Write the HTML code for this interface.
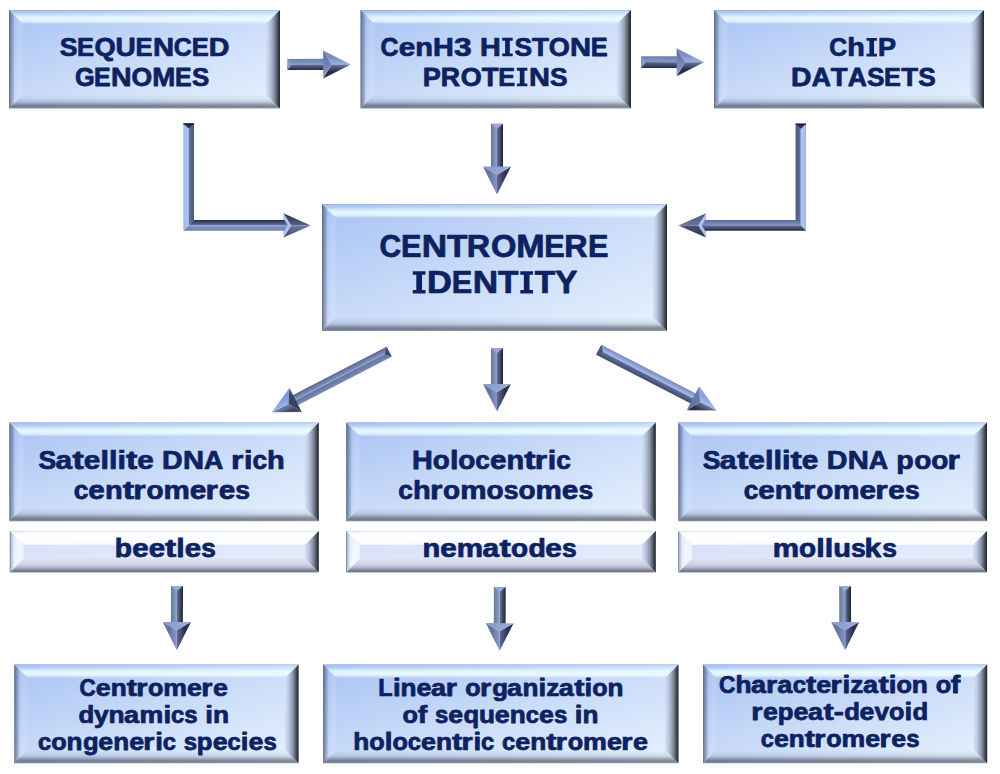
<!DOCTYPE html><html><head><meta charset="utf-8"><title>Centromere identity</title><style>html,body{margin:0;padding:0;background:#fff;width:1000px;height:774px;overflow:hidden}svg{display:block}text{font-family:"Liberation Sans",sans-serif}</style></head><body><svg width="1000" height="774" viewBox="0 0 1000 774"><defs><linearGradient id="faceB" x1="0" y1="0" x2="1" y2="1"><stop offset="0" stop-color="#a8c2f2"/><stop offset="0.5" stop-color="#cadcf9"/><stop offset="1" stop-color="#e8f2fe"/></linearGradient><linearGradient id="topB" x1="0" y1="0" x2="0" y2="1"><stop offset="0" stop-color="#6070a0" stop-opacity="0.5"/><stop offset="0.06" stop-color="#8090c0" stop-opacity="0.15"/><stop offset="0.12" stop-color="#ffffff" stop-opacity="0.0"/><stop offset="0.25" stop-color="#f0ffff" stop-opacity="0.18"/><stop offset="0.38" stop-color="#e8ffff" stop-opacity="0.55"/><stop offset="0.5" stop-color="#e8ffff" stop-opacity="0.8"/><stop offset="0.62" stop-color="#ecffff" stop-opacity="0.88"/><stop offset="0.8" stop-color="#f0ffff" stop-opacity="0.75"/><stop offset="0.92" stop-color="#ffffff" stop-opacity="0.3"/><stop offset="1" stop-color="#ffffff" stop-opacity="0.05"/></linearGradient><linearGradient id="leftB" x1="0" y1="0" x2="1" y2="0"><stop offset="0" stop-color="#283040" stop-opacity="0.62"/><stop offset="0.15" stop-color="#303a58" stop-opacity="0.42"/><stop offset="0.3" stop-color="#3a4670" stop-opacity="0.25"/><stop offset="0.5" stop-color="#ffffff" stop-opacity="0.0"/><stop offset="0.7" stop-color="#ffffff" stop-opacity="0.12"/><stop offset="1" stop-color="#ffffff" stop-opacity="0.1"/></linearGradient><linearGradient id="rightB" x1="0" y1="0" x2="1" y2="0"><stop offset="0" stop-color="#d4def6"/><stop offset="0.2" stop-color="#c4cee6"/><stop offset="0.4" stop-color="#a8b4cc"/><stop offset="0.6" stop-color="#848ea2"/><stop offset="0.78" stop-color="#565e6a"/><stop offset="0.9" stop-color="#343a42"/><stop offset="1" stop-color="#24282e"/></linearGradient><linearGradient id="botB" x1="0" y1="0" x2="0" y2="1"><stop offset="0" stop-color="#283040" stop-opacity="0.0"/><stop offset="0.3" stop-color="#283040" stop-opacity="0.06"/><stop offset="0.5" stop-color="#283040" stop-opacity="0.16"/><stop offset="0.65" stop-color="#283040" stop-opacity="0.35"/><stop offset="0.78" stop-color="#283040" stop-opacity="0.52"/><stop offset="0.9" stop-color="#283040" stop-opacity="0.56"/><stop offset="1" stop-color="#283040" stop-opacity="0.4"/></linearGradient><linearGradient id="faceS" x1="0" y1="0" x2="1" y2="1"><stop offset="0" stop-color="#d2def8"/><stop offset="0.5" stop-color="#dfe7fa"/><stop offset="1" stop-color="#eaf0fc"/></linearGradient><linearGradient id="topS" x1="0" y1="0" x2="0" y2="1"><stop offset="0" stop-color="#c8ccd8" stop-opacity="0.6"/><stop offset="0.08" stop-color="#ffffff" stop-opacity="0.8"/><stop offset="0.4" stop-color="#ffffff" stop-opacity="0.97"/><stop offset="0.85" stop-color="#ffffff" stop-opacity="0.92"/><stop offset="1" stop-color="#ffffff" stop-opacity="0.6"/></linearGradient><linearGradient id="leftS" x1="0" y1="0" x2="1" y2="0"><stop offset="0" stop-color="#50587a" stop-opacity="0.85"/><stop offset="0.1" stop-color="#8088a8" stop-opacity="0.4"/><stop offset="0.3" stop-color="#ffffff" stop-opacity="0.4"/><stop offset="0.6" stop-color="#ffffff" stop-opacity="0.7"/><stop offset="1" stop-color="#ffffff" stop-opacity="0.55"/></linearGradient><linearGradient id="rightS" x1="0" y1="0" x2="1" y2="0"><stop offset="0" stop-color="#d4def6"/><stop offset="0.2" stop-color="#c4cee6"/><stop offset="0.4" stop-color="#a8b4cc"/><stop offset="0.6" stop-color="#848ea2"/><stop offset="0.78" stop-color="#565e6a"/><stop offset="0.9" stop-color="#343a42"/><stop offset="1" stop-color="#24282e"/></linearGradient><linearGradient id="botS" x1="0" y1="0" x2="0" y2="1"><stop offset="0" stop-color="#dce2f2"/><stop offset="0.4" stop-color="#d0d6e8"/><stop offset="0.65" stop-color="#b0b8ca"/><stop offset="0.82" stop-color="#868c9e"/><stop offset="0.92" stop-color="#6c7286"/><stop offset="1" stop-color="#9096a8"/></linearGradient><linearGradient id="shL1" x1="0" y1="0" x2="0" y2="1"><stop offset="0" stop-color="#7484b0"/><stop offset="1" stop-color="#8898c4"/></linearGradient><linearGradient id="shL2" x1="0" y1="0" x2="0" y2="1"><stop offset="0" stop-color="#8898c4"/><stop offset="1" stop-color="#7484b0"/></linearGradient><linearGradient id="shD1" x1="0" y1="0" x2="0" y2="1"><stop offset="0" stop-color="#2a3250"/><stop offset="1" stop-color="#5a6890"/></linearGradient><linearGradient id="shD2" x1="0" y1="0" x2="0" y2="1"><stop offset="0" stop-color="#5a6890"/><stop offset="1" stop-color="#2a3250"/></linearGradient><linearGradient id="hdL1" x1="0" y1="0" x2="0" y2="1"><stop offset="0" stop-color="#7c8cbc"/><stop offset="1" stop-color="#90a0d0"/></linearGradient><linearGradient id="hdL2" x1="0" y1="0" x2="0" y2="1"><stop offset="0" stop-color="#90a0d0"/><stop offset="1" stop-color="#7c8cbc"/></linearGradient><linearGradient id="hdD1" x1="0" y1="0" x2="0" y2="1"><stop offset="0" stop-color="#2c3452"/><stop offset="1" stop-color="#5e6c98"/></linearGradient><linearGradient id="hdD2" x1="0" y1="0" x2="0" y2="1"><stop offset="0" stop-color="#5e6c98"/><stop offset="1" stop-color="#2c3452"/></linearGradient><linearGradient id="LvL" x1="0" y1="0" x2="1" y2="0"><stop offset="0" stop-color="#94acE4"/><stop offset="0.3" stop-color="#a8c0f4"/><stop offset="1" stop-color="#aac2f6"/></linearGradient><linearGradient id="LvD" x1="0" y1="0" x2="1" y2="0"><stop offset="0" stop-color="#6474a0"/><stop offset="1" stop-color="#4a5680"/></linearGradient><linearGradient id="LhD" x1="0" y1="0" x2="0" y2="1"><stop offset="0" stop-color="#242a40"/><stop offset="1" stop-color="#6474a4"/></linearGradient><linearGradient id="LhL" x1="0" y1="0" x2="0" y2="1"><stop offset="0" stop-color="#8898cc"/><stop offset="1" stop-color="#7080b0"/></linearGradient><linearGradient id="LhdD" x1="0" y1="0" x2="0" y2="1"><stop offset="0" stop-color="#263048"/><stop offset="1" stop-color="#56648c"/></linearGradient><linearGradient id="LhdL" x1="0" y1="0" x2="0" y2="1"><stop offset="0" stop-color="#6a7aa6"/><stop offset="1" stop-color="#3e4a6c"/></linearGradient><linearGradient id="LvD2" x1="0" y1="0" x2="1" y2="0"><stop offset="0" stop-color="#4a5680"/><stop offset="1" stop-color="#6474a0"/></linearGradient><linearGradient id="LvL2" x1="0" y1="0" x2="1" y2="0"><stop offset="0" stop-color="#aac2f6"/><stop offset="0.7" stop-color="#a8c0f4"/><stop offset="1" stop-color="#94ace4"/></linearGradient><linearGradient id="LhL2" x1="0" y1="0" x2="0" y2="1"><stop offset="0" stop-color="#5a6894"/><stop offset="1" stop-color="#8494c6"/></linearGradient><linearGradient id="LhD2" x1="0" y1="0" x2="0" y2="1"><stop offset="0" stop-color="#6474a4"/><stop offset="1" stop-color="#242a40"/></linearGradient><linearGradient id="LhdL2" x1="0" y1="0" x2="0" y2="1"><stop offset="0" stop-color="#4a5878"/><stop offset="1" stop-color="#66769e"/></linearGradient><linearGradient id="LhdD2" x1="0" y1="0" x2="0" y2="1"><stop offset="0" stop-color="#4a5878"/><stop offset="1" stop-color="#262e46"/></linearGradient></defs>
<rect x="9" y="10" width="271" height="98.5" fill="url(#faceB)"/>
<polygon points="9,10 280,10 266,24 23,24" fill="url(#topB)"/>
<polygon points="9,10 23,24 23,94.5 9,108.5" fill="url(#leftB)"/>
<polygon points="280,10 280,108.5 266,94.5 266,24" fill="url(#rightB)"/>
<polygon points="9,108.5 23,94.5 266,94.5 280,108.5" fill="url(#botB)"/>
<rect x="360.5" y="10" width="270.5" height="98.5" fill="url(#faceB)"/>
<polygon points="360.5,10 631,10 617,24 374.5,24" fill="url(#topB)"/>
<polygon points="360.5,10 374.5,24 374.5,94.5 360.5,108.5" fill="url(#leftB)"/>
<polygon points="631,10 631,108.5 617,94.5 617,24" fill="url(#rightB)"/>
<polygon points="360.5,108.5 374.5,94.5 617,94.5 631,108.5" fill="url(#botB)"/>
<rect x="714" y="10" width="270" height="98.5" fill="url(#faceB)"/>
<polygon points="714,10 984,10 970,24 728,24" fill="url(#topB)"/>
<polygon points="714,10 728,24 728,94.5 714,108.5" fill="url(#leftB)"/>
<polygon points="984,10 984,108.5 970,94.5 970,24" fill="url(#rightB)"/>
<polygon points="714,108.5 728,94.5 970,94.5 984,108.5" fill="url(#botB)"/>
<rect x="322" y="204" width="345" height="127" fill="url(#faceB)"/>
<polygon points="322,204 667,204 653,218 336,218" fill="url(#topB)"/>
<polygon points="322,204 336,218 336,317 322,331" fill="url(#leftB)"/>
<polygon points="667,204 667,331 653,317 653,218" fill="url(#rightB)"/>
<polygon points="322,331 336,317 653,317 667,331" fill="url(#botB)"/>
<rect x="9.3" y="422.4" width="309.5" height="98.9" fill="url(#faceB)"/>
<polygon points="9.3,422.4 318.8,422.4 304.8,436.4 23.3,436.4" fill="url(#topB)"/>
<polygon points="9.3,422.4 23.3,436.4 23.3,507.3 9.3,521.3" fill="url(#leftB)"/>
<polygon points="318.8,422.4 318.8,521.3 304.8,507.3 304.8,436.4" fill="url(#rightB)"/>
<polygon points="9.3,521.3 23.3,507.3 304.8,507.3 318.8,521.3" fill="url(#botB)"/>
<rect x="346.1" y="422.4" width="309.7" height="98.9" fill="url(#faceB)"/>
<polygon points="346.1,422.4 655.8,422.4 641.8,436.4 360.1,436.4" fill="url(#topB)"/>
<polygon points="346.1,422.4 360.1,436.4 360.1,507.3 346.1,521.3" fill="url(#leftB)"/>
<polygon points="655.8,422.4 655.8,521.3 641.8,507.3 641.8,436.4" fill="url(#rightB)"/>
<polygon points="346.1,521.3 360.1,507.3 641.8,507.3 655.8,521.3" fill="url(#botB)"/>
<rect x="678.2" y="422.4" width="308.8" height="98.9" fill="url(#faceB)"/>
<polygon points="678.2,422.4 987,422.4 973,436.4 692.2,436.4" fill="url(#topB)"/>
<polygon points="678.2,422.4 692.2,436.4 692.2,507.3 678.2,521.3" fill="url(#leftB)"/>
<polygon points="987,422.4 987,521.3 973,507.3 973,436.4" fill="url(#rightB)"/>
<polygon points="678.2,521.3 692.2,507.3 973,507.3 987,521.3" fill="url(#botB)"/>
<rect x="14.2" y="664.5" width="284.4" height="98.8" fill="url(#faceB)"/>
<polygon points="14.2,664.5 298.6,664.5 285.1,678 27.7,678" fill="url(#topB)"/>
<polygon points="14.2,664.5 27.7,678 27.7,749.8 14.2,763.3" fill="url(#leftB)"/>
<polygon points="298.6,664.5 298.6,763.3 285.1,749.8 285.1,678" fill="url(#rightB)"/>
<polygon points="14.2,763.3 27.7,749.8 285.1,749.8 298.6,763.3" fill="url(#botB)"/>
<rect x="323" y="664.5" width="355.5" height="98.8" fill="url(#faceB)"/>
<polygon points="323,664.5 678.5,664.5 665,678 336.5,678" fill="url(#topB)"/>
<polygon points="323,664.5 336.5,678 336.5,749.8 323,763.3" fill="url(#leftB)"/>
<polygon points="678.5,664.5 678.5,763.3 665,749.8 665,678" fill="url(#rightB)"/>
<polygon points="323,763.3 336.5,749.8 665,749.8 678.5,763.3" fill="url(#botB)"/>
<rect x="703" y="664.5" width="284.2" height="98.7" fill="url(#faceB)"/>
<polygon points="703,664.5 987.2,664.5 973.7,678 716.5,678" fill="url(#topB)"/>
<polygon points="703,664.5 716.5,678 716.5,749.7 703,763.2" fill="url(#leftB)"/>
<polygon points="987.2,664.5 987.2,763.2 973.7,749.7 973.7,678" fill="url(#rightB)"/>
<polygon points="703,763.2 716.5,749.7 973.7,749.7 987.2,763.2" fill="url(#botB)"/>
<rect x="9.8" y="531" width="309" height="41.4" fill="url(#faceS)"/>
<polygon points="9.8,531 318.8,531 304.8,545 23.8,545" fill="url(#topS)"/>
<polygon points="9.8,531 23.8,545 23.8,558.4 9.8,572.4" fill="url(#leftS)"/>
<polygon points="318.8,531 318.8,572.4 304.8,558.4 304.8,545" fill="url(#rightS)"/>
<polygon points="9.8,572.4 23.8,558.4 304.8,558.4 318.8,572.4" fill="url(#botS)"/>
<rect x="346.1" y="531" width="309.7" height="41.4" fill="url(#faceS)"/>
<polygon points="346.1,531 655.8,531 641.8,545 360.1,545" fill="url(#topS)"/>
<polygon points="346.1,531 360.1,545 360.1,558.4 346.1,572.4" fill="url(#leftS)"/>
<polygon points="655.8,531 655.8,572.4 641.8,558.4 641.8,545" fill="url(#rightS)"/>
<polygon points="346.1,572.4 360.1,558.4 641.8,558.4 655.8,572.4" fill="url(#botS)"/>
<rect x="678.2" y="531" width="308.8" height="41.4" fill="url(#faceS)"/>
<polygon points="678.2,531 987,531 973,545 692.2,545" fill="url(#topS)"/>
<polygon points="678.2,531 692.2,545 692.2,558.4 678.2,572.4" fill="url(#leftS)"/>
<polygon points="987,531 987,572.4 973,558.4 973,545" fill="url(#rightS)"/>
<polygon points="678.2,572.4 692.2,558.4 973,558.4 987,572.4" fill="url(#botS)"/>
<g transform="translate(287.5,64.5) rotate(-0.091)">
<defs><linearGradient id="ag1" gradientUnits="userSpaceOnUse" x1="0" y1="-5.6" x2="0" y2="0"><stop offset="0" stop-color="#6e7eaa"/><stop offset="1" stop-color="#8a9ac6"/></linearGradient><linearGradient id="ag2" gradientUnits="userSpaceOnUse" x1="0" y1="0" x2="0" y2="5.6"><stop offset="0" stop-color="#5e6c96"/><stop offset="1" stop-color="#242c44"/></linearGradient><linearGradient id="ag3" gradientUnits="userSpaceOnUse" x1="0" y1="-7.7" x2="0" y2="0"><stop offset="0" stop-color="#7c8cc0"/><stop offset="1" stop-color="#9cb0e2"/></linearGradient><linearGradient id="ag4" gradientUnits="userSpaceOnUse" x1="0" y1="0" x2="0" y2="7.7"><stop offset="0" stop-color="#6a7aa8"/><stop offset="1" stop-color="#242c46"/></linearGradient><linearGradient id="ag5" gradientUnits="userSpaceOnUse" x1="0" y1="-14" x2="0" y2="14"><stop offset="0" stop-color="#5a6a98"/><stop offset="1" stop-color="#8a9ccc"/></linearGradient></defs>
<rect x="0" y="-5.6" width="36.7" height="5.6" fill="url(#ag1)"/>
<rect x="0" y="0" width="36.7" height="5.6" fill="url(#ag2)"/>
<polygon points="35.7,-14 63.3,0 44.1,0" fill="url(#ag3)"/>
<polygon points="35.7,14 63.3,0 44.1,0" fill="url(#ag4)"/>
<polygon points="35.7,-14 44.1,0 35.7,14" fill="url(#ag5)"/>
<polygon points="0,-5.6 4.76,0 0,5.6" fill="#8b9bcb"/>
</g>
<g transform="translate(641.1,62.1) rotate(0.091)">
<defs><linearGradient id="ag6" gradientUnits="userSpaceOnUse" x1="0" y1="-5.9" x2="0" y2="0"><stop offset="0" stop-color="#6e7eaa"/><stop offset="1" stop-color="#8a9ac6"/></linearGradient><linearGradient id="ag7" gradientUnits="userSpaceOnUse" x1="0" y1="0" x2="0" y2="5.9"><stop offset="0" stop-color="#5e6c96"/><stop offset="1" stop-color="#242c44"/></linearGradient><linearGradient id="ag8" gradientUnits="userSpaceOnUse" x1="0" y1="-7.7" x2="0" y2="0"><stop offset="0" stop-color="#7c8cc0"/><stop offset="1" stop-color="#9cb0e2"/></linearGradient><linearGradient id="ag9" gradientUnits="userSpaceOnUse" x1="0" y1="0" x2="0" y2="7.7"><stop offset="0" stop-color="#6a7aa8"/><stop offset="1" stop-color="#242c46"/></linearGradient><linearGradient id="ag10" gradientUnits="userSpaceOnUse" x1="0" y1="-14" x2="0" y2="14"><stop offset="0" stop-color="#5a6a98"/><stop offset="1" stop-color="#8a9ccc"/></linearGradient></defs>
<rect x="0" y="-5.9" width="36.6" height="5.9" fill="url(#ag6)"/>
<rect x="0" y="0" width="36.6" height="5.9" fill="url(#ag7)"/>
<polygon points="35.6,-14 62.9,0 44,0" fill="url(#ag8)"/>
<polygon points="35.6,14 62.9,0 44,0" fill="url(#ag9)"/>
<polygon points="35.6,-14 44,0 35.6,14" fill="url(#ag10)"/>
<polygon points="0,-5.9 5.02,0 0,5.9" fill="#8b9bcb"/>
</g>
<g transform="translate(497,123.8) rotate(90.000)">
<defs><linearGradient id="ag11" gradientUnits="userSpaceOnUse" x1="0" y1="-6" x2="0" y2="0"><stop offset="0" stop-color="#1e2230"/><stop offset="1" stop-color="#66769a"/></linearGradient><linearGradient id="ag12" gradientUnits="userSpaceOnUse" x1="0" y1="0" x2="0" y2="6"><stop offset="0" stop-color="#8ea2ce"/><stop offset="1" stop-color="#687896"/></linearGradient><linearGradient id="ag13" gradientUnits="userSpaceOnUse" x1="0" y1="-7.7" x2="0" y2="0"><stop offset="0" stop-color="#2a3250"/><stop offset="1" stop-color="#5e6c94"/></linearGradient><linearGradient id="ag14" gradientUnits="userSpaceOnUse" x1="0" y1="0" x2="0" y2="7.7"><stop offset="0" stop-color="#8898c8"/><stop offset="1" stop-color="#6474a2"/></linearGradient><linearGradient id="ag15" gradientUnits="userSpaceOnUse" x1="0" y1="-14" x2="0" y2="14"><stop offset="0" stop-color="#9aaedc"/><stop offset="1" stop-color="#8898c8"/></linearGradient></defs>
<rect x="0" y="-6" width="43.8" height="6" fill="url(#ag11)"/>
<rect x="0" y="0" width="43.8" height="6" fill="url(#ag12)"/>
<polygon points="42.8,-14 70.7,0 50.9,0" fill="url(#ag13)"/>
<polygon points="42.8,14 70.7,0 50.9,0" fill="url(#ag14)"/>
<polygon points="42.8,-14 50.9,0 42.8,14" fill="url(#ag15)"/>
<polygon points="0,-6 5.1,0 0,6" fill="#98a8dc"/>
</g>
<g transform="translate(497,348.2) rotate(90.000)">
<defs><linearGradient id="ag16" gradientUnits="userSpaceOnUse" x1="0" y1="-6" x2="0" y2="0"><stop offset="0" stop-color="#1e2230"/><stop offset="1" stop-color="#66769a"/></linearGradient><linearGradient id="ag17" gradientUnits="userSpaceOnUse" x1="0" y1="0" x2="0" y2="6"><stop offset="0" stop-color="#8ea2ce"/><stop offset="1" stop-color="#687896"/></linearGradient><linearGradient id="ag18" gradientUnits="userSpaceOnUse" x1="0" y1="-7.7" x2="0" y2="0"><stop offset="0" stop-color="#2a3250"/><stop offset="1" stop-color="#5e6c94"/></linearGradient><linearGradient id="ag19" gradientUnits="userSpaceOnUse" x1="0" y1="0" x2="0" y2="7.7"><stop offset="0" stop-color="#8898c8"/><stop offset="1" stop-color="#6474a2"/></linearGradient><linearGradient id="ag20" gradientUnits="userSpaceOnUse" x1="0" y1="-14" x2="0" y2="14"><stop offset="0" stop-color="#9aaedc"/><stop offset="1" stop-color="#8898c8"/></linearGradient></defs>
<rect x="0" y="-6" width="36.7" height="6" fill="url(#ag16)"/>
<rect x="0" y="0" width="36.7" height="6" fill="url(#ag17)"/>
<polygon points="35.7,-14 63.2,0 43.8,0" fill="url(#ag18)"/>
<polygon points="35.7,14 63.2,0 43.8,0" fill="url(#ag19)"/>
<polygon points="35.7,-14 43.8,0 35.7,14" fill="url(#ag20)"/>
<polygon points="0,-6 5.1,0 0,6" fill="#98a8dc"/>
</g>
<g transform="translate(177,586) rotate(90.178)">
<defs><linearGradient id="ag21" gradientUnits="userSpaceOnUse" x1="0" y1="-6" x2="0" y2="0"><stop offset="0" stop-color="#1e2230"/><stop offset="1" stop-color="#66769a"/></linearGradient><linearGradient id="ag22" gradientUnits="userSpaceOnUse" x1="0" y1="0" x2="0" y2="6"><stop offset="0" stop-color="#8ea2ce"/><stop offset="1" stop-color="#687896"/></linearGradient><linearGradient id="ag23" gradientUnits="userSpaceOnUse" x1="0" y1="-7.76" x2="0" y2="0"><stop offset="0" stop-color="#2a3250"/><stop offset="1" stop-color="#5e6c94"/></linearGradient><linearGradient id="ag24" gradientUnits="userSpaceOnUse" x1="0" y1="0" x2="0" y2="7.76"><stop offset="0" stop-color="#8898c8"/><stop offset="1" stop-color="#6474a2"/></linearGradient><linearGradient id="ag25" gradientUnits="userSpaceOnUse" x1="0" y1="-14.1" x2="0" y2="14.1"><stop offset="0" stop-color="#9aaedc"/><stop offset="1" stop-color="#8898c8"/></linearGradient></defs>
<rect x="0" y="-6" width="37" height="6" fill="url(#ag21)"/>
<rect x="0" y="0" width="37" height="6" fill="url(#ag22)"/>
<polygon points="36,-14.1 64.3,0 44.1,0" fill="url(#ag23)"/>
<polygon points="36,14.1 64.3,0 44.1,0" fill="url(#ag24)"/>
<polygon points="36,-14.1 44.1,0 36,14.1" fill="url(#ag25)"/>
<polygon points="0,-6 5.1,0 0,6" fill="#98a8dc"/>
</g>
<g transform="translate(499.8,587.1) rotate(90.180)">
<defs><linearGradient id="ag26" gradientUnits="userSpaceOnUse" x1="0" y1="-5.9" x2="0" y2="0"><stop offset="0" stop-color="#1e2230"/><stop offset="1" stop-color="#66769a"/></linearGradient><linearGradient id="ag27" gradientUnits="userSpaceOnUse" x1="0" y1="0" x2="0" y2="5.9"><stop offset="0" stop-color="#8ea2ce"/><stop offset="1" stop-color="#687896"/></linearGradient><linearGradient id="ag28" gradientUnits="userSpaceOnUse" x1="0" y1="-7.65" x2="0" y2="0"><stop offset="0" stop-color="#2a3250"/><stop offset="1" stop-color="#5e6c94"/></linearGradient><linearGradient id="ag29" gradientUnits="userSpaceOnUse" x1="0" y1="0" x2="0" y2="7.65"><stop offset="0" stop-color="#8898c8"/><stop offset="1" stop-color="#6474a2"/></linearGradient><linearGradient id="ag30" gradientUnits="userSpaceOnUse" x1="0" y1="-13.9" x2="0" y2="13.9"><stop offset="0" stop-color="#9aaedc"/><stop offset="1" stop-color="#8898c8"/></linearGradient></defs>
<rect x="0" y="-5.9" width="37" height="5.9" fill="url(#ag26)"/>
<rect x="0" y="0" width="37" height="5.9" fill="url(#ag27)"/>
<polygon points="36,-13.9 63.7,0 44.1,0" fill="url(#ag28)"/>
<polygon points="36,13.9 63.7,0 44.1,0" fill="url(#ag29)"/>
<polygon points="36,-13.9 44.1,0 36,13.9" fill="url(#ag30)"/>
<polygon points="0,-5.9 5.02,0 0,5.9" fill="#98a8dc"/>
</g>
<g transform="translate(845.1,586) rotate(89.911)">
<defs><linearGradient id="ag31" gradientUnits="userSpaceOnUse" x1="0" y1="-5.9" x2="0" y2="0"><stop offset="0" stop-color="#1e2230"/><stop offset="1" stop-color="#66769a"/></linearGradient><linearGradient id="ag32" gradientUnits="userSpaceOnUse" x1="0" y1="0" x2="0" y2="5.9"><stop offset="0" stop-color="#8ea2ce"/><stop offset="1" stop-color="#687896"/></linearGradient><linearGradient id="ag33" gradientUnits="userSpaceOnUse" x1="0" y1="-7.7" x2="0" y2="0"><stop offset="0" stop-color="#2a3250"/><stop offset="1" stop-color="#5e6c94"/></linearGradient><linearGradient id="ag34" gradientUnits="userSpaceOnUse" x1="0" y1="0" x2="0" y2="7.7"><stop offset="0" stop-color="#8898c8"/><stop offset="1" stop-color="#6474a2"/></linearGradient><linearGradient id="ag35" gradientUnits="userSpaceOnUse" x1="0" y1="-14" x2="0" y2="14"><stop offset="0" stop-color="#9aaedc"/><stop offset="1" stop-color="#8898c8"/></linearGradient></defs>
<rect x="0" y="-5.9" width="37" height="5.9" fill="url(#ag31)"/>
<rect x="0" y="0" width="37" height="5.9" fill="url(#ag32)"/>
<polygon points="36,-14 64.3,0 44.1,0" fill="url(#ag33)"/>
<polygon points="36,14 64.3,0 44.1,0" fill="url(#ag34)"/>
<polygon points="36,-14 44.1,0 36,14" fill="url(#ag35)"/>
<polygon points="0,-5.9 5.02,0 0,5.9" fill="#98a8dc"/>
</g>
<g transform="translate(389.15,351.8) rotate(152.707)">
<defs><linearGradient id="ag36" gradientUnits="userSpaceOnUse" x1="0" y1="-5.6" x2="0" y2="0"><stop offset="0" stop-color="#7a8ab8"/><stop offset="1" stop-color="#62729e"/></linearGradient><linearGradient id="ag37" gradientUnits="userSpaceOnUse" x1="0" y1="0" x2="0" y2="5.6"><stop offset="0" stop-color="#8a9cca"/><stop offset="1" stop-color="#56648e"/></linearGradient><linearGradient id="ag38" gradientUnits="userSpaceOnUse" x1="0" y1="-7.43" x2="0" y2="0"><stop offset="0" stop-color="#3c4868"/><stop offset="1" stop-color="#7484b0"/></linearGradient><linearGradient id="ag39" gradientUnits="userSpaceOnUse" x1="0" y1="0" x2="0" y2="7.43"><stop offset="0" stop-color="#9cb2e6"/><stop offset="1" stop-color="#8498d0"/></linearGradient><linearGradient id="ag40" gradientUnits="userSpaceOnUse" x1="0" y1="-13.5" x2="0" y2="13.5"><stop offset="0" stop-color="#34405e"/><stop offset="1" stop-color="#3e4a6c"/></linearGradient></defs>
<rect x="0" y="-5.6" width="106.24" height="5.6" fill="url(#ag36)"/>
<rect x="0" y="0" width="106.24" height="5.6" fill="url(#ag37)"/>
<polygon points="105.24,-13.5 131.94,0 113.24,0" fill="url(#ag38)"/>
<polygon points="105.24,13.5 131.94,0 113.24,0" fill="url(#ag39)"/>
<polygon points="105.24,-13.5 113.24,0 105.24,13.5" fill="url(#ag40)"/>
<polygon points="0,-5.6 4.76,0 0,5.6" fill="#3e4a6a"/>
</g>
<g transform="translate(598.75,349.7) rotate(27.308)">
<defs><linearGradient id="ag41" gradientUnits="userSpaceOnUse" x1="0" y1="-5.6" x2="0" y2="0"><stop offset="0" stop-color="#7888b8"/><stop offset="1" stop-color="#a6bef0"/></linearGradient><linearGradient id="ag42" gradientUnits="userSpaceOnUse" x1="0" y1="0" x2="0" y2="5.6"><stop offset="0" stop-color="#62729e"/><stop offset="1" stop-color="#3e4a6a"/></linearGradient><linearGradient id="ag43" gradientUnits="userSpaceOnUse" x1="0" y1="-7.43" x2="0" y2="0"><stop offset="0" stop-color="#8aa0d6"/><stop offset="1" stop-color="#a8c0f0"/></linearGradient><linearGradient id="ag44" gradientUnits="userSpaceOnUse" x1="0" y1="0" x2="0" y2="7.43"><stop offset="0" stop-color="#6a7aa8"/><stop offset="1" stop-color="#2a3248"/></linearGradient><linearGradient id="ag45" gradientUnits="userSpaceOnUse" x1="0" y1="-13.5" x2="0" y2="13.5"><stop offset="0" stop-color="#7080b0"/><stop offset="1" stop-color="#5e6e9c"/></linearGradient></defs>
<rect x="0" y="-5.6" width="107.04" height="5.6" fill="url(#ag41)"/>
<rect x="0" y="0" width="107.04" height="5.6" fill="url(#ag42)"/>
<polygon points="106.04,-13.5 132.74,0 114.04,0" fill="url(#ag43)"/>
<polygon points="106.04,13.5 132.74,0 114.04,0" fill="url(#ag44)"/>
<polygon points="106.04,-13.5 114.04,0 106.04,13.5" fill="url(#ag45)"/>
<polygon points="0,-5.6 4.76,0 0,5.6" fill="#4a5678"/>
</g>
<polygon points="183.4,123.4 188.7,123.4 188.7,225.35 183.4,230.7" fill="url(#LvL)"/>
<polygon points="188.7,123.4 194,123.4 194,220 188.7,225.35" fill="url(#LvD)"/>
<polygon points="194,220 283.9,220 283.9,225.35 188.7,225.35" fill="url(#LhD)"/>
<polygon points="188.7,225.35 283.9,225.35 283.9,230.7 183.4,230.7" fill="url(#LhL)"/>
<polygon points="183.4,123.4 194,123.4 188.7,128.4" fill="#283050"/><rect x="183.4" y="123.4" width="10.6" height="1.2" fill="#141a30"/>
<polygon points="283.4,213.3 310.8,225.5 291,225.5" fill="url(#LhdD)"/>
<polygon points="291,225.5 310.8,225.5 283.4,237.6" fill="url(#LhdL)"/>
<polygon points="283.4,213.3 291,225.5 283.4,237.6" fill="#aec2f0"/>
<polygon points="282.9,220 284.37,220 287.8,225.35 282.9,225.35" fill="url(#LhD)"/>
<polygon points="282.9,225.35 287.8,225.35 284.37,230.7 282.9,230.7" fill="url(#LhL)"/>
<polygon points="795.6,123.7 800.8,123.7 800.8,225.35 795.6,220" fill="url(#LvD2)"/>
<polygon points="800.8,123.7 806,123.7 806,230.7 800.8,225.35" fill="url(#LvL2)"/>
<polygon points="705.6,220 795.6,220 800.8,225.35 705.6,225.35" fill="url(#LhL2)"/>
<polygon points="705.6,225.35 800.8,225.35 806,230.7 705.6,230.7" fill="url(#LhD2)"/>
<polygon points="795.6,123.7 806,123.7 800.8,128.7" fill="#283050"/><rect x="795.6" y="123.7" width="10.4" height="1.2" fill="#141a30"/>
<polygon points="706.1,213.3 678.4,225.5 698.5,225.5" fill="url(#LhdL2)"/>
<polygon points="698.5,225.5 678.4,225.5 706.1,237.6" fill="url(#LhdD2)"/>
<polygon points="706.1,213.3 698.5,225.5 706.1,237.6" fill="#aec2f0"/>
<polygon points="706.6,220 705.13,220 701.7,225.35 706.6,225.35" fill="url(#LhL2)"/>
<polygon points="706.6,225.35 701.7,225.35 705.13,230.7 706.6,230.7" fill="url(#LhD2)"/>
<g font-family="Liberation Sans" font-weight="bold" fill="#0d2260" stroke="#0d2260" stroke-width="0.75" stroke-linejoin="round"><text transform="translate(59.81,56.00) scale(1.021,1)" font-size="26.0">S</text><text transform="translate(77.02,56.00) scale(0.982,1)" font-size="26.0">E</text><text transform="translate(94.42,56.00) scale(1.048,1)" font-size="26.0">Q</text><text transform="translate(115.62,56.00) scale(1.078,1)" font-size="26.0">U</text><text transform="translate(135.50,56.00) scale(0.982,1)" font-size="26.0">E</text><text transform="translate(152.89,56.00) scale(1.125,1)" font-size="26.0">N</text><text transform="translate(173.83,56.00) scale(0.961,1)" font-size="26.0">C</text><text transform="translate(191.70,56.00) scale(0.982,1)" font-size="26.0">E</text><text transform="translate(208.73,56.00) scale(1.102,1)" font-size="26.0">D</text>
<text transform="translate(74.93,86.00) scale(0.975,1)" font-size="26.0">G</text><text transform="translate(94.05,86.00) scale(0.958,1)" font-size="26.0">E</text><text transform="translate(111.01,86.00) scale(1.097,1)" font-size="26.0">N</text><text transform="translate(131.61,86.00) scale(1.022,1)" font-size="26.0">O</text><text transform="translate(152.27,86.00) scale(1.064,1)" font-size="26.0">M</text><text transform="translate(174.98,86.00) scale(0.958,1)" font-size="26.0">E</text><text transform="translate(192.07,86.00) scale(0.996,1)" font-size="26.0">S</text>
<text transform="translate(380.55,56.00) scale(0.958,1)" font-size="26.0">C</text><text transform="translate(398.64,56.00) scale(1.141,1)" font-size="26.0">e</text><text transform="translate(415.16,56.00) scale(1.114,1)" font-size="26.0">n</text><text transform="translate(432.91,56.00) scale(1.108,1)" font-size="26.0">H</text><text transform="translate(453.92,56.00) scale(1.222,1)" font-size="26.0">3</text><text transform="translate(479.88,56.00) scale(1.108,1)" font-size="26.0">H</text><path d="M502.18,37.74h10.56v2.93h-2.92V53.44h2.92v2.93h-10.56v-2.93h2.92V40.67h-2.92z" stroke="none"/><text transform="translate(514.38,56.00) scale(1.017,1)" font-size="26.0">S</text><text transform="translate(531.88,56.00) scale(1.067,1)" font-size="26.0">T</text><text transform="translate(548.84,56.00) scale(1.044,1)" font-size="26.0">O</text><text transform="translate(569.96,56.00) scale(1.121,1)" font-size="26.0">N</text><text transform="translate(590.65,56.00) scale(0.979,1)" font-size="26.0">E</text>
<text transform="translate(422.86,86.00) scale(1.044,1)" font-size="26.0">P</text><text transform="translate(440.78,86.00) scale(1.028,1)" font-size="26.0">R</text><text transform="translate(460.72,86.00) scale(1.038,1)" font-size="26.0">O</text><text transform="translate(481.69,86.00) scale(1.060,1)" font-size="26.0">T</text><text transform="translate(498.18,86.00) scale(0.972,1)" font-size="26.0">E</text><path d="M516.89,67.74h10.49v2.91h-2.90V83.46h2.90v2.91h-10.49v-2.91h2.90V70.65h-2.90z" stroke="none"/><text transform="translate(528.88,86.00) scale(1.114,1)" font-size="26.0">N</text><text transform="translate(549.92,86.00) scale(1.011,1)" font-size="26.0">S</text>
<text transform="translate(829.36,56.20) scale(0.951,1)" font-size="26.0">C</text><text transform="translate(847.27,56.20) scale(1.106,1)" font-size="26.0">h</text><path d="M866.44,37.94h10.48v2.91h-2.90V53.66h2.90v2.91h-10.48v-2.91h2.90V40.85h-2.90z" stroke="none"/><text transform="translate(877.97,56.20) scale(1.043,1)" font-size="26.0">P</text>
<text transform="translate(790.88,86.30) scale(1.090,1)" font-size="26.0">D</text><text transform="translate(811.73,86.30) scale(1.020,1)" font-size="26.0">A</text><text transform="translate(830.84,86.30) scale(1.059,1)" font-size="26.0">T</text><text transform="translate(847.69,86.30) scale(1.020,1)" font-size="26.0">A</text><text transform="translate(866.95,86.30) scale(1.010,1)" font-size="26.0">S</text><text transform="translate(883.98,86.30) scale(0.972,1)" font-size="26.0">E</text><text transform="translate(901.17,86.30) scale(1.059,1)" font-size="26.0">T</text><text transform="translate(918.14,86.30) scale(1.010,1)" font-size="26.0">S</text>
<text transform="translate(379.44,256.80) scale(0.960,1)" font-size="31.25">C</text><text transform="translate(400.88,256.80) scale(0.980,1)" font-size="31.25">E</text><text transform="translate(421.75,256.80) scale(1.123,1)" font-size="31.25">N</text><text transform="translate(447.08,256.80) scale(1.069,1)" font-size="31.25">T</text><text transform="translate(466.74,256.80) scale(1.037,1)" font-size="31.25">R</text><text transform="translate(490.90,256.80) scale(1.046,1)" font-size="31.25">O</text><text transform="translate(516.32,256.80) scale(1.090,1)" font-size="31.25">M</text><text transform="translate(544.26,256.80) scale(0.980,1)" font-size="31.25">E</text><text transform="translate(564.37,256.80) scale(1.037,1)" font-size="31.25">R</text><text transform="translate(588.09,256.80) scale(0.980,1)" font-size="31.25">E</text>
<path d="M412.77,271.32h12.74v3.54h-3.52V290.04h3.52v3.54h-12.74v-3.54h3.52V274.86h-3.52z" stroke="none"/><text transform="translate(426.90,293.20) scale(1.102,1)" font-size="31.25">D</text><text transform="translate(451.77,293.20) scale(0.982,1)" font-size="31.25">E</text><text transform="translate(472.67,293.20) scale(1.125,1)" font-size="31.25">N</text><text transform="translate(498.04,293.20) scale(1.071,1)" font-size="31.25">T</text><path d="M520.30,271.32h12.74v3.54h-3.52V290.04h3.52v3.54h-12.74v-3.54h3.52V274.86h-3.52z" stroke="none"/><text transform="translate(534.84,293.20) scale(1.071,1)" font-size="31.25">T</text><text transform="translate(555.27,293.20) scale(1.060,1)" font-size="31.25">Y</text>
<text transform="translate(38.51,469.00) scale(1.017,1)" font-size="26.0">S</text><text transform="translate(55.49,469.00) scale(1.148,1)" font-size="26.0">a</text><text transform="translate(72.61,469.00) scale(1.308,1)" font-size="26.0">t</text><text transform="translate(83.87,469.00) scale(1.141,1)" font-size="26.0">e</text><text transform="translate(100.45,469.00) scale(1.176,1)" font-size="26.0">l</text><text transform="translate(108.95,469.00) scale(1.176,1)" font-size="26.0">l</text><text transform="translate(117.45,469.00) scale(1.176,1)" font-size="26.0">i</text><text transform="translate(125.93,469.00) scale(1.308,1)" font-size="26.0">t</text><text transform="translate(137.19,469.00) scale(1.141,1)" font-size="26.0">e</text><text transform="translate(161.90,469.00) scale(1.098,1)" font-size="26.0">D</text><text transform="translate(182.88,469.00) scale(1.121,1)" font-size="26.0">N</text><text transform="translate(203.94,469.00) scale(1.027,1)" font-size="26.0">A</text><text transform="translate(230.89,469.00) scale(1.220,1)" font-size="26.0">r</text><text transform="translate(244.05,469.00) scale(1.176,1)" font-size="26.0">i</text><text transform="translate(252.41,469.00) scale(1.010,1)" font-size="26.0">c</text><text transform="translate(267.03,469.00) scale(1.114,1)" font-size="26.0">h</text>
<text transform="translate(73.65,499.00) scale(1.012,1)" font-size="26.0">c</text><text transform="translate(88.34,499.00) scale(1.143,1)" font-size="26.0">e</text><text transform="translate(104.89,499.00) scale(1.116,1)" font-size="26.0">n</text><text transform="translate(122.67,499.00) scale(1.311,1)" font-size="26.0">t</text><text transform="translate(133.22,499.00) scale(1.223,1)" font-size="26.0">r</text><text transform="translate(146.40,499.00) scale(1.077,1)" font-size="26.0">o</text><text transform="translate(163.44,499.00) scale(1.139,1)" font-size="26.0">m</text><text transform="translate(189.77,499.00) scale(1.143,1)" font-size="26.0">e</text><text transform="translate(205.56,499.00) scale(1.223,1)" font-size="26.0">r</text><text transform="translate(218.67,499.00) scale(1.143,1)" font-size="26.0">e</text><text transform="translate(235.35,499.00) scale(1.021,1)" font-size="26.0">s</text>
<text transform="translate(412.05,469.00) scale(1.107,1)" font-size="26.0">H</text><text transform="translate(432.82,469.00) scale(1.074,1)" font-size="26.0">o</text><text transform="translate(449.89,469.00) scale(1.175,1)" font-size="26.0">l</text><text transform="translate(458.37,469.00) scale(1.074,1)" font-size="26.0">o</text><text transform="translate(475.29,469.00) scale(1.009,1)" font-size="26.0">c</text><text transform="translate(489.95,469.00) scale(1.140,1)" font-size="26.0">e</text><text transform="translate(506.45,469.00) scale(1.113,1)" font-size="26.0">n</text><text transform="translate(524.18,469.00) scale(1.307,1)" font-size="26.0">t</text><text transform="translate(534.69,469.00) scale(1.219,1)" font-size="26.0">r</text><text transform="translate(547.85,469.00) scale(1.175,1)" font-size="26.0">i</text><text transform="translate(556.20,469.00) scale(1.009,1)" font-size="26.0">c</text>
<text transform="translate(398.25,499.00) scale(1.012,1)" font-size="26.0">c</text><text transform="translate(412.90,499.00) scale(1.116,1)" font-size="26.0">h</text><text transform="translate(429.93,499.00) scale(1.223,1)" font-size="26.0">r</text><text transform="translate(443.11,499.00) scale(1.077,1)" font-size="26.0">o</text><text transform="translate(460.15,499.00) scale(1.139,1)" font-size="26.0">m</text><text transform="translate(486.55,499.00) scale(1.077,1)" font-size="26.0">o</text><text transform="translate(503.72,499.00) scale(1.021,1)" font-size="26.0">s</text><text transform="translate(518.41,499.00) scale(1.077,1)" font-size="26.0">o</text><text transform="translate(535.45,499.00) scale(1.139,1)" font-size="26.0">m</text><text transform="translate(561.77,499.00) scale(1.143,1)" font-size="26.0">e</text><text transform="translate(578.45,499.00) scale(1.021,1)" font-size="26.0">s</text>
<text transform="translate(702.81,469.00) scale(1.021,1)" font-size="26.0">S</text><text transform="translate(719.85,469.00) scale(1.152,1)" font-size="26.0">a</text><text transform="translate(737.04,469.00) scale(1.313,1)" font-size="26.0">t</text><text transform="translate(748.34,469.00) scale(1.145,1)" font-size="26.0">e</text><text transform="translate(764.99,469.00) scale(1.181,1)" font-size="26.0">l</text><text transform="translate(773.52,469.00) scale(1.181,1)" font-size="26.0">l</text><text transform="translate(782.04,469.00) scale(1.181,1)" font-size="26.0">i</text><text transform="translate(790.56,469.00) scale(1.313,1)" font-size="26.0">t</text><text transform="translate(801.86,469.00) scale(1.145,1)" font-size="26.0">e</text><text transform="translate(826.66,469.00) scale(1.102,1)" font-size="26.0">D</text><text transform="translate(847.73,469.00) scale(1.125,1)" font-size="26.0">N</text><text transform="translate(868.86,469.00) scale(1.031,1)" font-size="26.0">A</text><text transform="translate(896.37,469.00) scale(1.098,1)" font-size="26.0">p</text><text transform="translate(914.16,469.00) scale(1.079,1)" font-size="26.0">o</text><text transform="translate(931.29,469.00) scale(1.079,1)" font-size="26.0">o</text><text transform="translate(947.61,469.00) scale(1.225,1)" font-size="26.0">r</text>
<text transform="translate(743.65,499.00) scale(1.010,1)" font-size="26.0">c</text><text transform="translate(758.31,499.00) scale(1.141,1)" font-size="26.0">e</text><text transform="translate(774.82,499.00) scale(1.114,1)" font-size="26.0">n</text><text transform="translate(792.56,499.00) scale(1.308,1)" font-size="26.0">t</text><text transform="translate(803.08,499.00) scale(1.220,1)" font-size="26.0">r</text><text transform="translate(816.23,499.00) scale(1.074,1)" font-size="26.0">o</text><text transform="translate(833.24,499.00) scale(1.137,1)" font-size="26.0">m</text><text transform="translate(859.50,499.00) scale(1.141,1)" font-size="26.0">e</text><text transform="translate(875.26,499.00) scale(1.220,1)" font-size="26.0">r</text><text transform="translate(888.34,499.00) scale(1.141,1)" font-size="26.0">e</text><text transform="translate(904.98,499.00) scale(1.019,1)" font-size="26.0">s</text>
<text transform="translate(114.82,556.70) scale(1.084,1)" font-size="26.0">b</text><text transform="translate(132.32,556.70) scale(1.131,1)" font-size="26.0">e</text><text transform="translate(148.67,556.70) scale(1.131,1)" font-size="26.0">e</text><text transform="translate(165.10,556.70) scale(1.297,1)" font-size="26.0">t</text><text transform="translate(176.35,556.70) scale(1.166,1)" font-size="26.0">l</text><text transform="translate(184.69,556.70) scale(1.131,1)" font-size="26.0">e</text><text transform="translate(201.19,556.70) scale(1.010,1)" font-size="26.0">s</text>
<text transform="translate(422.47,556.70) scale(1.114,1)" font-size="26.0">n</text><text transform="translate(440.14,556.70) scale(1.141,1)" font-size="26.0">e</text><text transform="translate(456.66,556.70) scale(1.137,1)" font-size="26.0">m</text><text transform="translate(482.48,556.70) scale(1.148,1)" font-size="26.0">a</text><text transform="translate(499.62,556.70) scale(1.309,1)" font-size="26.0">t</text><text transform="translate(510.95,556.70) scale(1.075,1)" font-size="26.0">o</text><text transform="translate(528.38,556.70) scale(1.094,1)" font-size="26.0">d</text><text transform="translate(545.32,556.70) scale(1.141,1)" font-size="26.0">e</text><text transform="translate(561.97,556.70) scale(1.019,1)" font-size="26.0">s</text>
<text transform="translate(772.73,556.70) scale(1.137,1)" font-size="26.0">m</text><text transform="translate(799.06,556.70) scale(1.074,1)" font-size="26.0">o</text><text transform="translate(816.14,556.70) scale(1.176,1)" font-size="26.0">l</text><text transform="translate(824.64,556.70) scale(1.176,1)" font-size="26.0">l</text><text transform="translate(833.18,556.70) scale(1.114,1)" font-size="26.0">u</text><text transform="translate(850.88,556.70) scale(1.019,1)" font-size="26.0">s</text><text transform="translate(864.48,556.70) scale(1.153,1)" font-size="26.0">k</text><text transform="translate(882.28,556.70) scale(1.019,1)" font-size="26.0">s</text>
<text transform="translate(79.45,696.00) scale(0.972,1)" font-size="23.1">C</text><text transform="translate(95.76,696.00) scale(1.158,1)" font-size="23.1">e</text><text transform="translate(110.66,696.00) scale(1.131,1)" font-size="23.1">n</text><text transform="translate(126.66,696.00) scale(1.328,1)" font-size="23.1">t</text><text transform="translate(136.15,696.00) scale(1.239,1)" font-size="23.1">r</text><text transform="translate(148.01,696.00) scale(1.091,1)" font-size="23.1">o</text><text transform="translate(163.36,696.00) scale(1.154,1)" font-size="23.1">m</text><text transform="translate(187.05,696.00) scale(1.158,1)" font-size="23.1">e</text><text transform="translate(201.26,696.00) scale(1.239,1)" font-size="23.1">r</text><text transform="translate(213.06,696.00) scale(1.158,1)" font-size="23.1">e</text>
<text transform="translate(78.52,722.70) scale(1.114,1)" font-size="23.1">d</text><text transform="translate(93.88,722.70) scale(1.139,1)" font-size="23.1">y</text><text transform="translate(108.50,722.70) scale(1.135,1)" font-size="23.1">n</text><text transform="translate(124.08,722.70) scale(1.169,1)" font-size="23.1">a</text><text transform="translate(139.53,722.70) scale(1.158,1)" font-size="23.1">m</text><text transform="translate(163.38,722.70) scale(1.198,1)" font-size="23.1">i</text><text transform="translate(170.94,722.70) scale(1.029,1)" font-size="23.1">c</text><text transform="translate(184.35,722.70) scale(1.038,1)" font-size="23.1">s</text><text transform="translate(205.32,722.70) scale(1.198,1)" font-size="23.1">i</text><text transform="translate(212.94,722.70) scale(1.135,1)" font-size="23.1">n</text>
<text transform="translate(37.95,749.60) scale(1.027,1)" font-size="23.1">c</text><text transform="translate(51.26,749.60) scale(1.092,1)" font-size="23.1">o</text><text transform="translate(66.62,749.60) scale(1.132,1)" font-size="23.1">n</text><text transform="translate(82.98,749.60) scale(1.111,1)" font-size="23.1">g</text><text transform="translate(98.26,749.60) scale(1.160,1)" font-size="23.1">e</text><text transform="translate(113.17,749.60) scale(1.132,1)" font-size="23.1">n</text><text transform="translate(129.13,749.60) scale(1.160,1)" font-size="23.1">e</text><text transform="translate(143.37,749.60) scale(1.240,1)" font-size="23.1">r</text><text transform="translate(155.26,749.60) scale(1.196,1)" font-size="23.1">i</text><text transform="translate(162.80,749.60) scale(1.027,1)" font-size="23.1">c</text><text transform="translate(183.85,749.60) scale(1.036,1)" font-size="23.1">s</text><text transform="translate(196.77,749.60) scale(1.111,1)" font-size="23.1">p</text><text transform="translate(212.71,749.60) scale(1.160,1)" font-size="23.1">e</text><text transform="translate(227.55,749.60) scale(1.027,1)" font-size="23.1">c</text><text transform="translate(240.87,749.60) scale(1.196,1)" font-size="23.1">i</text><text transform="translate(248.47,749.60) scale(1.160,1)" font-size="23.1">e</text><text transform="translate(263.50,749.60) scale(1.036,1)" font-size="23.1">s</text>
<text transform="translate(378.21,695.80) scale(1.013,1)" font-size="23.1">L</text><text transform="translate(392.94,695.80) scale(1.196,1)" font-size="23.1">i</text><text transform="translate(400.55,695.80) scale(1.132,1)" font-size="23.1">n</text><text transform="translate(416.52,695.80) scale(1.160,1)" font-size="23.1">e</text><text transform="translate(431.01,695.80) scale(1.167,1)" font-size="23.1">a</text><text transform="translate(445.75,695.80) scale(1.241,1)" font-size="23.1">r</text><text transform="translate(465.31,695.80) scale(1.093,1)" font-size="23.1">o</text><text transform="translate(480.00,695.80) scale(1.241,1)" font-size="23.1">r</text><text transform="translate(492.21,695.80) scale(1.112,1)" font-size="23.1">g</text><text transform="translate(507.09,695.80) scale(1.167,1)" font-size="23.1">a</text><text transform="translate(522.51,695.80) scale(1.132,1)" font-size="23.1">n</text><text transform="translate(538.55,695.80) scale(1.196,1)" font-size="23.1">i</text><text transform="translate(546.16,695.80) scale(1.133,1)" font-size="23.1">z</text><text transform="translate(558.82,695.80) scale(1.167,1)" font-size="23.1">a</text><text transform="translate(574.29,695.80) scale(1.330,1)" font-size="23.1">t</text><text transform="translate(584.54,695.80) scale(1.196,1)" font-size="23.1">i</text><text transform="translate(592.20,695.80) scale(1.093,1)" font-size="23.1">o</text><text transform="translate(607.57,695.80) scale(1.132,1)" font-size="23.1">n</text>
<text transform="translate(402.49,722.70) scale(1.092,1)" font-size="23.1">o</text><text transform="translate(417.63,722.70) scale(1.231,1)" font-size="23.1">f</text><text transform="translate(435.12,722.70) scale(1.036,1)" font-size="23.1">s</text><text transform="translate(448.28,722.70) scale(1.160,1)" font-size="23.1">e</text><text transform="translate(463.58,722.70) scale(1.111,1)" font-size="23.1">q</text><text transform="translate(478.98,722.70) scale(1.132,1)" font-size="23.1">u</text><text transform="translate(494.84,722.70) scale(1.160,1)" font-size="23.1">e</text><text transform="translate(509.75,722.70) scale(1.132,1)" font-size="23.1">n</text><text transform="translate(525.66,722.70) scale(1.027,1)" font-size="23.1">c</text><text transform="translate(538.91,722.70) scale(1.160,1)" font-size="23.1">e</text><text transform="translate(553.94,722.70) scale(1.036,1)" font-size="23.1">s</text><text transform="translate(574.86,722.70) scale(1.196,1)" font-size="23.1">i</text><text transform="translate(582.47,722.70) scale(1.132,1)" font-size="23.1">n</text>
<text transform="translate(353.14,749.60) scale(1.135,1)" font-size="23.1">h</text><text transform="translate(369.26,749.60) scale(1.095,1)" font-size="23.1">o</text><text transform="translate(384.73,749.60) scale(1.199,1)" font-size="23.1">l</text><text transform="translate(392.41,749.60) scale(1.095,1)" font-size="23.1">o</text><text transform="translate(407.75,749.60) scale(1.030,1)" font-size="23.1">c</text><text transform="translate(421.02,749.60) scale(1.163,1)" font-size="23.1">e</text><text transform="translate(435.97,749.60) scale(1.135,1)" font-size="23.1">n</text><text transform="translate(452.04,749.60) scale(1.333,1)" font-size="23.1">t</text><text transform="translate(461.57,749.60) scale(1.244,1)" font-size="23.1">r</text><text transform="translate(473.49,749.60) scale(1.199,1)" font-size="23.1">i</text><text transform="translate(481.05,749.60) scale(1.030,1)" font-size="23.1">c</text><text transform="translate(501.97,749.60) scale(1.030,1)" font-size="23.1">c</text><text transform="translate(515.25,749.60) scale(1.163,1)" font-size="23.1">e</text><text transform="translate(530.20,749.60) scale(1.135,1)" font-size="23.1">n</text><text transform="translate(546.27,749.60) scale(1.333,1)" font-size="23.1">t</text><text transform="translate(555.80,749.60) scale(1.244,1)" font-size="23.1">r</text><text transform="translate(567.70,749.60) scale(1.095,1)" font-size="23.1">o</text><text transform="translate(583.11,749.60) scale(1.159,1)" font-size="23.1">m</text><text transform="translate(606.89,749.60) scale(1.163,1)" font-size="23.1">e</text><text transform="translate(621.16,749.60) scale(1.244,1)" font-size="23.1">r</text><text transform="translate(633.01,749.60) scale(1.163,1)" font-size="23.1">e</text>
<text transform="translate(719.05,692.70) scale(0.978,1)" font-size="23.1">C</text><text transform="translate(735.41,692.70) scale(1.137,1)" font-size="23.1">h</text><text transform="translate(751.08,692.70) scale(1.172,1)" font-size="23.1">a</text><text transform="translate(765.88,692.70) scale(1.246,1)" font-size="23.1">r</text><text transform="translate(777.33,692.70) scale(1.172,1)" font-size="23.1">a</text><text transform="translate(792.75,692.70) scale(1.031,1)" font-size="23.1">c</text><text transform="translate(806.11,692.70) scale(1.336,1)" font-size="23.1">t</text><text transform="translate(816.32,692.70) scale(1.165,1)" font-size="23.1">e</text><text transform="translate(830.62,692.70) scale(1.246,1)" font-size="23.1">r</text><text transform="translate(842.56,692.70) scale(1.201,1)" font-size="23.1">i</text><text transform="translate(850.20,692.70) scale(1.137,1)" font-size="23.1">z</text><text transform="translate(862.91,692.70) scale(1.172,1)" font-size="23.1">a</text><text transform="translate(878.44,692.70) scale(1.336,1)" font-size="23.1">t</text><text transform="translate(888.73,692.70) scale(1.201,1)" font-size="23.1">i</text><text transform="translate(896.42,692.70) scale(1.097,1)" font-size="23.1">o</text><text transform="translate(911.85,692.70) scale(1.137,1)" font-size="23.1">n</text><text transform="translate(935.65,692.70) scale(1.097,1)" font-size="23.1">o</text><text transform="translate(950.86,692.70) scale(1.236,1)" font-size="23.1">f</text>
<text transform="translate(751.19,719.60) scale(1.241,1)" font-size="23.1">r</text><text transform="translate(763.00,719.60) scale(1.160,1)" font-size="23.1">e</text><text transform="translate(777.65,719.60) scale(1.112,1)" font-size="23.1">p</text><text transform="translate(793.59,719.60) scale(1.160,1)" font-size="23.1">e</text><text transform="translate(808.08,719.60) scale(1.167,1)" font-size="23.1">a</text><text transform="translate(823.56,719.60) scale(1.330,1)" font-size="23.1">t</text><text transform="translate(833.80,719.60) scale(1.319,1)" font-size="23.1">-</text><text transform="translate(844.25,719.60) scale(1.112,1)" font-size="23.1">d</text><text transform="translate(859.56,719.60) scale(1.160,1)" font-size="23.1">e</text><text transform="translate(874.53,719.60) scale(1.136,1)" font-size="23.1">v</text><text transform="translate(889.11,719.60) scale(1.093,1)" font-size="23.1">o</text><text transform="translate(904.55,719.60) scale(1.196,1)" font-size="23.1">i</text><text transform="translate(912.53,719.60) scale(1.112,1)" font-size="23.1">d</text>
<text transform="translate(760.65,746.50) scale(1.026,1)" font-size="23.1">c</text><text transform="translate(773.88,746.50) scale(1.158,1)" font-size="23.1">e</text><text transform="translate(788.77,746.50) scale(1.131,1)" font-size="23.1">n</text><text transform="translate(804.78,746.50) scale(1.328,1)" font-size="23.1">t</text><text transform="translate(814.27,746.50) scale(1.239,1)" font-size="23.1">r</text><text transform="translate(826.14,746.50) scale(1.091,1)" font-size="23.1">o</text><text transform="translate(841.48,746.50) scale(1.154,1)" font-size="23.1">m</text><text transform="translate(865.18,746.50) scale(1.158,1)" font-size="23.1">e</text><text transform="translate(879.40,746.50) scale(1.239,1)" font-size="23.1">r</text><text transform="translate(891.20,746.50) scale(1.158,1)" font-size="23.1">e</text><text transform="translate(906.22,746.50) scale(1.034,1)" font-size="23.1">s</text></g></svg></body></html>
